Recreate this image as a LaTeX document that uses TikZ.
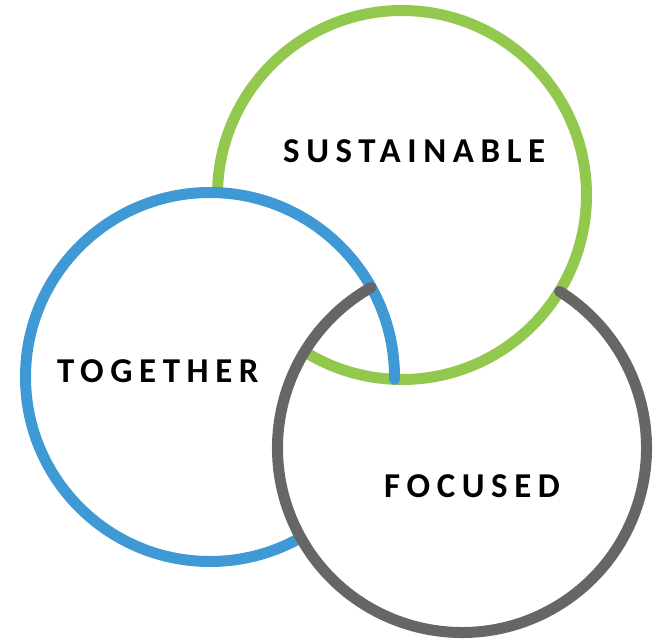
\documentclass[tikz,border=0pt]{standalone}
\usepackage{fontspec}
\setmainfont{Carlito}
\newfontfamily\ringfont[LetterSpace=19]{Carlito}
\usepackage{tikz}

\definecolor{ringgreen}{RGB}{146,200,78}
\definecolor{ringblue}{RGB}{62,153,213}
\definecolor{ringgray}{RGB}{102,102,102}

\begin{document}
\begin{tikzpicture}[
        x=1bp, y=1bp,
        ring/.style={line width=11bp},
        ringlabel/.style={font=\ringfont\bfseries\fontsize{35}{35}\selectfont, inner sep=0pt, anchor=base west}
    ]
        \useasboundingbox (0,0) rectangle (658,-639);
        % Ring centres
        \coordinate (sust) at (402,-195);
        \coordinate (tog) at (210,-377);
        \coordinate (foc) at (462,-448);
        % Green ring, its ends lie under blue and gray
        \draw[ring, ringgreen] (sust) ++(179.3:184.5) arc[start angle=179.3, end angle=-121.9, radius=184.5];
        % Blue ring, round end on the green one
        \draw[ring, ringblue, line cap=round] (tog) ++(-0.7:184.5) arc[start angle=-0.7, end angle=299.5, radius=184.5];
        % Gray ring, round ends on blue and green
        \draw[ring, ringgray, line cap=round] (foc) ++(119.5:184.5) arc[start angle=119.5, end angle=418.1, radius=184.5];
        % Labels
        \node[ringlabel] (sustlabel) at (283,-163) {SUSTAINABLE};
        \node[ringlabel] (toglabel) at (57,-382) {TOGETHER};
        \node[ringlabel] (foclabel) at (384,-497) {FOCUSED};
    \end{tikzpicture}
\end{document}
